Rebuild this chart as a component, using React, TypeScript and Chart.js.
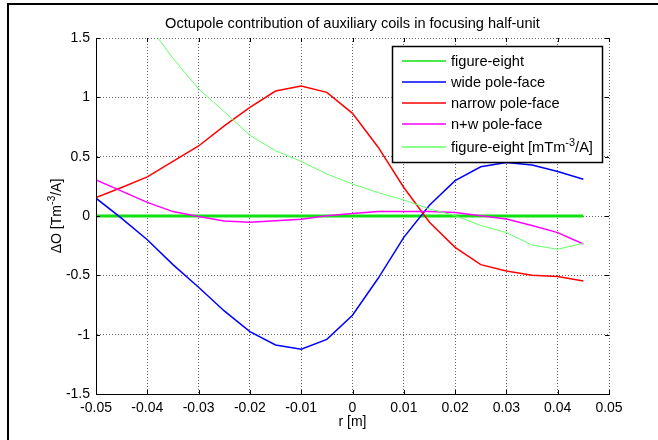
import React, { useEffect, useRef } from "react";
import { Chart, registerables } from "chart.js";

Chart.register(...registerables);

// ---- data ----
const r = [-0.05, -0.045, -0.04, -0.035, -0.03, -0.025, -0.02, -0.015, -0.01, -0.005, 0, 0.005, 0.01, 0.015, 0.02, 0.025, 0.03, 0.035, 0.04, 0.045];
const figureEight = [0, 0, 0, 0, 0, 0, 0, 0, 0, 0, 0, 0, 0, 0, 0, 0, 0, 0, 0, 0];
const widePoleFace = [0.15, -0.02, -0.2, -0.41, -0.6, -0.8, -0.975, -1.087, -1.123, -1.04, -0.836, -0.525, -0.18, 0.09, 0.298, 0.415, 0.45, 0.43, 0.375, 0.31];
const narrowPoleFace = [0.155, 0.24, 0.33, 0.46, 0.59, 0.76, 0.915, 1.053, 1.095, 1.042, 0.865, 0.58, 0.24, -0.053, -0.264, -0.41, -0.464, -0.5, -0.51, -0.548];
const nwPoleFace = [0.303, 0.21, 0.115, 0.037, -0.005, -0.042, -0.053, -0.04, -0.028, 0.003, 0.022, 0.037, 0.037, 0.037, 0.03, 0.003, -0.025, -0.08, -0.14, -0.236];
const figureEightMilli = [2.4, 2.0, 1.62, 1.33, 1.07, 0.88, 0.68, 0.55, 0.46, 0.354, 0.27, 0.197, 0.135, 0.059, 0.003, -0.08, -0.14, -0.245, -0.28, -0.23];

const xTickValues = [-0.05, -0.04, -0.03, -0.02, -0.01, 0, 0.01, 0.02, 0.03, 0.04, 0.05];
const yTickValues = [-1.5, -1, -0.5, 0, 0.5, 1, 1.5];

const seriesLabels = ["figure-eight", "wide pole-face", "narrow pole-face", "n+w pole-face", "figure-eight [mTm^{-3}/A]"];
const seriesColors = ["#11e011", "#0000ff", "#ff0000", "#ff00ff", "#66ff66"];
const titleText = "Octupole contribution of auxiliary coils in focusing half-unit";
const xTitle = "r [m]";
const yTitle = "\u0394O [Tm^{-3}/A]";

const FONT_FAMILY = "'Liberation Sans', Arial, sans-serif";
const FS = 14;
const TITLE_FS = 14.6;
const LEGEND_FS = 14.6;

function parseRich(text: string) {
  const parts: { t: string; sup: boolean }[] = [];
  const re = /\^\{([^}]*)\}/g;
  let last = 0;
  let m: RegExpExecArray | null;
  while ((m = re.exec(text)) !== null) {
    if (m.index > last) parts.push({ t: text.slice(last, m.index), sup: false });
    parts.push({ t: m[1], sup: true });
    last = m.index + m[0].length;
  }
  if (last < text.length) parts.push({ t: text.slice(last), sup: false });
  return parts;
}

function richWidth(ctx: CanvasRenderingContext2D, text: string, size: number) {
  let w = 0;
  for (const p of parseRich(text)) {
    ctx.font = `${p.sup ? size * 0.75 : size}px ${FONT_FAMILY}`;
    w += ctx.measureText(p.t).width;
  }
  return w;
}

function drawRich(ctx: CanvasRenderingContext2D, text: string, x: number, y: number, size: number) {
  let cx = x;
  ctx.textBaseline = "alphabetic";
  ctx.textAlign = "left";
  for (const p of parseRich(text)) {
    const s = p.sup ? size * 0.75 : size;
    ctx.font = `${s}px ${FONT_FAMILY}`;
    ctx.fillText(p.t, cx, p.sup ? y - size * 0.42 : y);
    cx += ctx.measureText(p.t).width;
  }
}

const decorPlugin = {
  id: "decor",
  beforeDraw(chart: any) {
    const ctx: CanvasRenderingContext2D = chart.ctx;
    ctx.save();
    ctx.fillStyle = "#ffffff";
    ctx.fillRect(0, 0, chart.width, chart.height);
    ctx.fillStyle = "#000000";
    // figure frame
    ctx.fillRect(7, 3, 2, chart.height);
    ctx.fillRect(7, 3, chart.width, 2);
    const ca = chart.chartArea;
    const cxm = (ca.left + ca.right) / 2;
    // title
    ctx.font = `${TITLE_FS}px ${FONT_FAMILY}`;
    ctx.textAlign = "center";
    ctx.textBaseline = "alphabetic";
    ctx.fillText(titleText, cxm, 28);
    // x title
    ctx.font = `${FS}px ${FONT_FAMILY}`;
    ctx.fillText(xTitle, cxm, 426);
    // y title (rotated)
    const w = richWidth(ctx, yTitle, FS);
    ctx.save();
    ctx.translate(61, (ca.top + ca.bottom) / 2);
    ctx.rotate(-Math.PI / 2);
    drawRich(ctx, yTitle, -w / 2, 0, FS);
    ctx.restore();
    ctx.restore();
  },
  afterDraw(chart: any) {
    const ctx: CanvasRenderingContext2D = chart.ctx;
    const ca = chart.chartArea;
    const xs = chart.scales.x;
    const ys = chart.scales.y;
    ctx.save();
    ctx.strokeStyle = "#000";
    ctx.lineWidth = 1;
    const tl = 4;
    ctx.beginPath();
    for (const v of xTickValues) {
      const px = Math.round(xs.getPixelForValue(v)) + 0.5;
      ctx.moveTo(px, ca.bottom);
      ctx.lineTo(px, ca.bottom - tl);
      ctx.moveTo(px, ca.top);
      ctx.lineTo(px, ca.top + tl);
    }
    for (const v of yTickValues) {
      const py = Math.round(ys.getPixelForValue(v)) + 0.5;
      ctx.moveTo(ca.left, py);
      ctx.lineTo(ca.left + tl, py);
      ctx.moveTo(ca.right, py);
      ctx.lineTo(ca.right - tl, py);
    }
    ctx.stroke();

    // legend
    const lx = 392, ly = 46, lw = 210, lh = 116;
    ctx.fillStyle = "#fff";
    ctx.fillRect(lx, ly, lw, lh);
    ctx.strokeStyle = "#000";
    ctx.lineWidth = 1.5;
    ctx.strokeRect(lx + 0.5, ly + 0.5, lw, lh);
    const rows = [61, 82, 103, 124, 147];
    seriesLabels.forEach((label, i) => {
      const yy = rows[i];
      ctx.strokeStyle = seriesColors[i];
      ctx.lineWidth = 1.5;
      ctx.beginPath();
      ctx.moveTo(402, yy);
      ctx.lineTo(446, yy);
      ctx.stroke();
      ctx.fillStyle = "#000";
      drawRich(ctx, label, 451, yy + 5, LEGEND_FS);
    });
    ctx.restore();
  },
};

export default function App() {
  const ref = useRef<HTMLCanvasElement | null>(null);
  useEffect(() => {
    if (!ref.current) return;
    const series = [figureEight, widePoleFace, narrowPoleFace, nwPoleFace, figureEightMilli];
    const widths = [3, 1.5, 1.5, 1.5, 1];
    const chart = new Chart(ref.current, {
      type: "line",
      data: {
        datasets: series.map((vals, i) => ({
          label: seriesLabels[i],
          data: vals.map((v, j) => ({ x: r[j], y: v })),
          borderColor: seriesColors[i],
          backgroundColor: seriesColors[i],
          borderWidth: widths[i],
          pointRadius: 0,
          tension: 0,
          fill: false,
          order: series.length - i,
        })),
      },
      options: {
        responsive: false,
        animation: false,
        events: [],
        layout: { padding: { left: 0, right: 49, top: 38, bottom: 0 } },
        plugins: { legend: { display: false }, title: { display: false }, tooltip: { enabled: false } },
        scales: {
          x: {
            type: "linear",
            min: -0.05,
            max: 0.05,
            afterBuildTicks: (s: any) => {
              s.ticks = xTickValues.map((v) => ({ value: v }));
            },
            afterFit: (s: any) => {
              s.height = 46;
            },
            ticks: {
              autoSkip: false,
              maxRotation: 0,
              padding: 6,
              color: "#000",
              font: { family: FONT_FAMILY, size: FS },
              callback: (v: any) => String(v),
            },
            grid: { color: "#666", lineWidth: 1, drawTicks: false },
            border: { display: true, color: "#000", width: 1, dash: [1, 2], z: 1 },
          },
          y: {
            type: "linear",
            min: -1.5,
            max: 1.5,
            afterBuildTicks: (s: any) => {
              s.ticks = yTickValues.map((v) => ({ value: v }));
            },
            afterFit: (s: any) => {
              s.width = 96;
            },
            ticks: {
              autoSkip: false,
              padding: 6,
              color: "#000",
              font: { family: FONT_FAMILY, size: FS },
              callback: (v: any) => String(v),
            },
            grid: { color: "#666", lineWidth: 1, drawTicks: false },
            border: { display: true, color: "#000", width: 1, dash: [1, 2], z: 1 },
          },
        },
      },
      plugins: [decorPlugin],
    });
    return () => chart.destroy();
  }, []);
  return (
    <canvas
      ref={ref}
      width={658}
      height={440}
      style={{ position: "fixed", left: 0, top: 0, width: 658, height: 440, display: "block" }}
    />
  );
}
